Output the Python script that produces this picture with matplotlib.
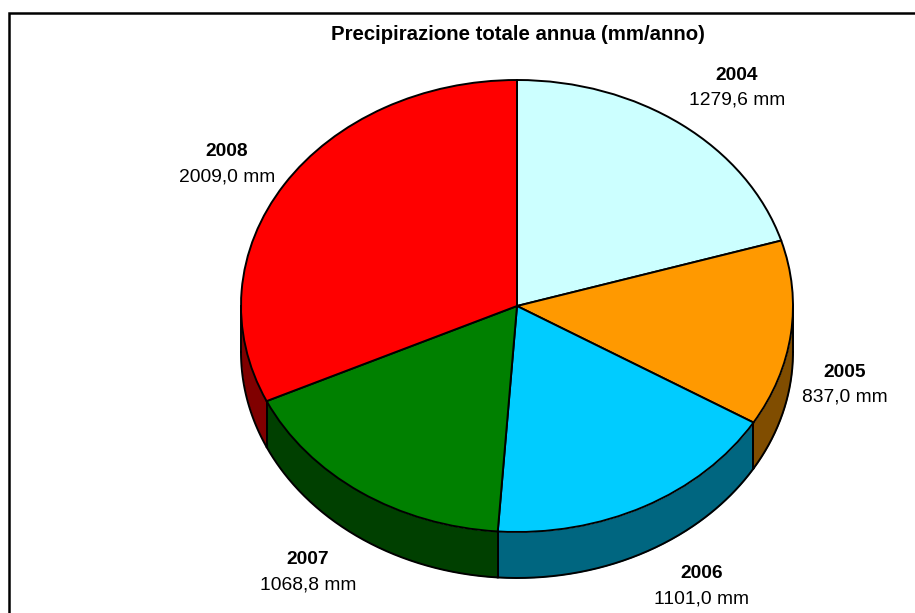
import numpy as np
import matplotlib
matplotlib.use('Agg')
import matplotlib.pyplot as plt

anni = ['2004', '2005', '2006', '2007', '2008']
valori = [1279.6, 837.0, 1101.0, 1068.8, 2009.0]
etichette = ['1279,6 mm', '837,0 mm', '1101,0 mm', '1068,8 mm', '2009,0 mm']
colori = ['#CCFFFF', '#FF9900', '#00CCFF', '#008000', '#FF0000']
colori_lato = ['#668080', '#804D00', '#006680', '#004000', '#800000']

W, H = 915, 613
cx, cy = 517, 306      # centro dell'ellisse in pixel
rx, ry = 276, 226
spessore = 46

plt.rcParams['font.family'] = ['Liberation Sans', 'DejaVu Sans']

fig = plt.figure(figsize=(W / 100, H / 100), dpi=100)

# sfondo in pixel: cornice e testi
bg = fig.add_axes([0, 0, 1, 1])
bg.set_xlim(0, W)
bg.set_ylim(H, 0)
bg.axis('off')
bg.plot([8.5, 8.5, W], [H, 12.5, 12.5], color='black', lw=1.8, solid_joinstyle='miter')

# lato del disco, dagli stessi valori
angoli = 90 - np.cumsum([0] + valori) / sum(valori) * 360
for i in range(len(valori)):
    a = np.radians(np.linspace(angoli[i + 1], angoli[i], 200))
    a = a[np.sin(a) <= 0]   # solo la parte davanti
    if len(a) < 2:
        continue
    x = cx + rx * np.cos(a)
    y = cy - ry * np.sin(a)
    bg.fill_between(x, y, y + spessore, color=colori_lato[i], lw=0, zorder=2)
    bg.plot(x, y + spessore, color='black', lw=1.4, zorder=3)
    bg.plot([x[0], x[0]], [y[0], y[0] + spessore], color='black', lw=1.4, zorder=3)
    bg.plot([x[-1], x[-1]], [y[-1], y[-1] + spessore], color='black', lw=1.4, zorder=3)

# faccia superiore: torta su assi non quadrati, così diventa ellisse
ax = fig.add_axes([(cx - rx) / W, 1 - (cy + ry) / H, 2 * rx / W, 2 * ry / H])
ax.patch.set_alpha(0)
ax.pie(valori, colors=colori, startangle=90, counterclock=False, radius=1,
       wedgeprops={'edgecolor': 'black', 'linewidth': 1.4})
ax.set_aspect('auto')
ax.set_xlim(-1, 1)
ax.set_ylim(-1, 1)
for w in ax.patches:
    w.set_clip_on(False)

bg.text(517.5, 34, 'Precipirazione totale annua (mm/anno)', ha='center', va='center',
        fontsize=14.7, fontweight='bold')

pos_testo = [(737, 75.5), (844.5, 372.5), (702, 574), (308, 560), (227, 152)]
for anno, et, (tx, ty) in zip(anni, etichette, pos_testo):
    bg.text(tx, ty, anno, ha='center', va='center', fontsize=13.8, fontweight='bold')
    bg.text(tx, ty + 24.5, et, ha='center', va='center', fontsize=13.9)

fig.savefig('out.png', dpi=100)
